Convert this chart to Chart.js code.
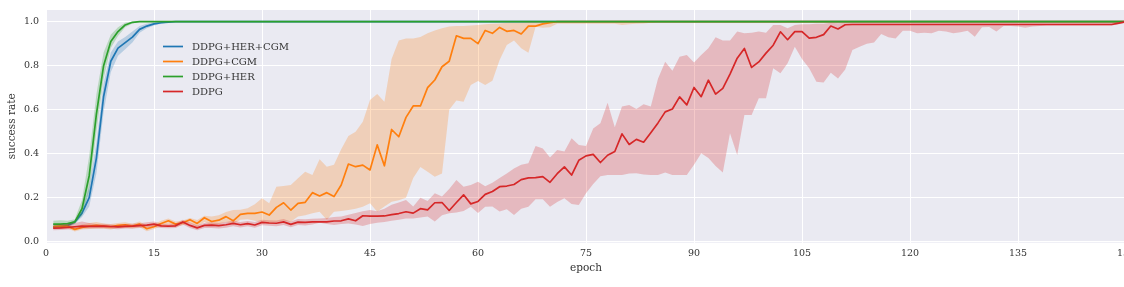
<!DOCTYPE html>
<html>
<head>
<meta charset="utf-8">
<script src="https://cdn.jsdelivr.net/npm/chart.js@4.4.1/dist/chart.umd.min.js"></script>
<style>
  html, body { margin: 0; padding: 0; background: #ffffff; overflow: hidden; }
  #wrap { width: 1126px; height: 287px; }
</style>
</head>
<body>
<div id="wrap"><canvas id="chart" width="1126" height="287"></canvas></div>
<script>
// Series names / colours (legend order)
const seriesNames = ['DDPG+HER+CGM', 'DDPG+CGM', 'DDPG+HER', 'DDPG'];
const seriesColors = ['#1f77b4', '#ff7f0e', '#2ca02c', '#d62728'];
const bandColors = ['rgba(31,119,180,0.25)', 'rgba(255,127,14,0.25)', 'rgba(44,160,44,0.25)', 'rgba(214,39,40,0.25)'];

const xTicks = [0, 15, 30, 45, 60, 75, 90, 105, 120, 135, 150];
const yTicks = [0, 0.2, 0.4, 0.6, 0.8, 1.0];

// success rate per epoch (epoch 1..150), mean and band edges

// DDPG+HER+CGM
const herCgmMean = [
  0.068, 0.068, 0.074, 0.090, 0.130, 0.200, 0.380, 0.660, 0.820, 0.880,
  0.905, 0.930, 0.965, 0.980, 0.990, 0.995, 0.998, 1, 1, 1,
  1, 1, 1, 1, 1, 1, 1, 1, 1, 1,
  1, 1, 1, 1, 1, 1, 1, 1, 1, 1,
  1, 1, 1, 1, 1, 1, 1, 1, 1, 1,
  1, 1, 1, 1, 1, 1, 1, 1, 1, 1,
  1, 1, 1, 1, 1, 1, 1, 1, 1, 1,
  1, 1, 1, 1, 1, 1, 1, 1, 1, 1,
  1, 1, 1, 1, 1, 1, 1, 1, 1, 1,
  1, 1, 1, 1, 1, 1, 1, 1, 1, 1,
  1, 1, 1, 1, 1, 1, 1, 1, 1, 1,
  1, 1, 1, 1, 1, 1, 1, 1, 1, 1,
  1, 1, 1, 1, 1, 1, 1, 1, 1, 1,
  1, 1, 1, 1, 1, 1, 1, 1, 1, 1,
  1, 1, 1, 1, 1, 1, 1, 1, 1, 1
];
const herCgmHigh = [
  0.078, 0.078, 0.082, 0.098, 0.150, 0.250, 0.450, 0.720, 0.860, 0.910,
  0.930, 0.955, 0.980, 0.990, 0.997, 1, 1, 1, 1, 1,
  1, 1, 1, 1, 1, 1, 1, 1, 1, 1,
  1, 1, 1, 1, 1, 1, 1, 1, 1, 1,
  1, 1, 1, 1, 1, 1, 1, 1, 1, 1,
  1, 1, 1, 1, 1, 1, 1, 1, 1, 1,
  1, 1, 1, 1, 1, 1, 1, 1, 1, 1,
  1, 1, 1, 1, 1, 1, 1, 1, 1, 1,
  1, 1, 1, 1, 1, 1, 1, 1, 1, 1,
  1, 1, 1, 1, 1, 1, 1, 1, 1, 1,
  1, 1, 1, 1, 1, 1, 1, 1, 1, 1,
  1, 1, 1, 1, 1, 1, 1, 1, 1, 1,
  1, 1, 1, 1, 1, 1, 1, 1, 1, 1,
  1, 1, 1, 1, 1, 1, 1, 1, 1, 1,
  1, 1, 1, 1, 1, 1, 1, 1, 1, 1
];
const herCgmLow = [
  0.058, 0.058, 0.066, 0.082, 0.112, 0.160, 0.310, 0.590, 0.770, 0.845,
  0.875, 0.905, 0.950, 0.970, 0.983, 0.990, 0.996, 1, 1, 1,
  1, 1, 1, 1, 1, 1, 1, 1, 1, 1,
  1, 1, 1, 1, 1, 1, 1, 1, 1, 1,
  1, 1, 1, 1, 1, 1, 1, 1, 1, 1,
  1, 1, 1, 1, 1, 1, 1, 1, 1, 1,
  1, 1, 1, 1, 1, 1, 1, 1, 1, 1,
  1, 1, 1, 1, 1, 1, 1, 1, 1, 1,
  1, 1, 1, 1, 1, 1, 1, 1, 1, 1,
  1, 1, 1, 1, 1, 1, 1, 1, 1, 1,
  1, 1, 1, 1, 1, 1, 1, 1, 1, 1,
  1, 1, 1, 1, 1, 1, 1, 1, 1, 1,
  1, 1, 1, 1, 1, 1, 1, 1, 1, 1,
  1, 1, 1, 1, 1, 1, 1, 1, 1, 1,
  1, 1, 1, 1, 1, 1, 1, 1, 1, 1
];

// DDPG+CGM
const cgmMean = [
  0.068, 0.071, 0.070, 0.056, 0.065, 0.071, 0.074, 0.071, 0.068, 0.074,
  0.077, 0.071, 0.080, 0.059, 0.068, 0.083, 0.095, 0.080, 0.086, 0.100,
  0.083, 0.109, 0.092, 0.098, 0.114, 0.095, 0.124, 0.129, 0.129, 0.135,
  0.121, 0.156, 0.177, 0.144, 0.174, 0.179, 0.223, 0.208, 0.223, 0.205,
  0.258, 0.353, 0.341, 0.348, 0.326, 0.440, 0.345, 0.510, 0.477, 0.565,
  0.617, 0.617, 0.700, 0.735, 0.795, 0.820, 0.936, 0.924, 0.924, 0.900,
  0.960, 0.947, 0.974, 0.956, 0.960, 0.944, 0.980, 0.980, 0.990, 0.996,
  1, 1, 1, 1, 1, 1, 1, 1, 1, 1,
  1, 1, 1, 1, 1, 1, 1, 1, 1, 1,
  1, 1, 1, 1, 1, 1, 1, 1, 1, 1,
  1, 1, 1, 1, 1, 1, 1, 1, 1, 1,
  1, 1, 1, 1, 1, 1, 1, 1, 1, 1,
  1, 1, 1, 1, 1, 1, 1, 1, 1, 1,
  1, 1, 1, 1, 1, 1, 1, 1, 1, 1,
  1, 1, 1, 1, 1, 1, 1, 1, 1, 1
];
const cgmHigh = [
  0.080, 0.082, 0.080, 0.068, 0.078, 0.085, 0.090, 0.083, 0.080, 0.085,
  0.088, 0.082, 0.092, 0.074, 0.080, 0.095, 0.105, 0.092, 0.096, 0.108,
  0.099, 0.118, 0.114, 0.120, 0.135, 0.144, 0.145, 0.152, 0.170, 0.197,
  0.175, 0.250, 0.253, 0.258, 0.288, 0.318, 0.303, 0.375, 0.341, 0.350,
  0.420, 0.480, 0.500, 0.545, 0.644, 0.671, 0.636, 0.830, 0.914, 0.924,
  0.924, 0.930, 0.947, 0.960, 0.970, 0.978, 0.980, 0.980, 0.982, 0.985,
  0.988, 0.990, 0.992, 0.995, 0.995, 0.995, 0.998, 0.998, 1, 1,
  1, 1, 1, 1, 1, 1, 1, 1, 1, 1,
  1, 1, 1, 1, 1, 1, 1, 1, 1, 1,
  1, 1, 1, 1, 1, 1, 1, 1, 1, 1,
  1, 1, 1, 1, 1, 1, 1, 1, 1, 1,
  1, 1, 1, 1, 1, 1, 1, 1, 1, 1,
  1, 1, 1, 1, 1, 1, 1, 1, 1, 1,
  1, 1, 1, 1, 1, 1, 1, 1, 1, 1,
  1, 1, 1, 1, 1, 1, 1, 1, 1, 1
];
const cgmLow = [
  0.058, 0.060, 0.060, 0.046, 0.055, 0.058, 0.060, 0.059, 0.056, 0.062,
  0.064, 0.060, 0.066, 0.048, 0.058, 0.070, 0.080, 0.068, 0.075, 0.085,
  0.068, 0.090, 0.075, 0.080, 0.090, 0.080, 0.100, 0.102, 0.095, 0.090,
  0.080, 0.090, 0.095, 0.091, 0.114, 0.120, 0.129, 0.136, 0.100, 0.136,
  0.140, 0.144, 0.150, 0.159, 0.175, 0.136, 0.160, 0.182, 0.188, 0.200,
  0.290, 0.340, 0.318, 0.295, 0.310, 0.600, 0.642, 0.636, 0.712, 0.730,
  0.712, 0.732, 0.826, 0.894, 0.914, 0.879, 0.859, 0.977, 0.972, 0.975,
  0.990, 0.990, 0.990, 0.990, 0.990, 0.990, 0.990, 0.990, 0.990, 0.985,
  0.988, 0.990, 0.992, 0.995, 1, 1, 1, 1, 1, 1,
  1, 1, 1, 1, 1, 1, 1, 1, 1, 1,
  1, 1, 1, 1, 1, 1, 1, 1, 1, 1,
  1, 1, 1, 1, 1, 1, 1, 1, 1, 1,
  1, 1, 1, 1, 1, 1, 1, 1, 1, 1,
  1, 1, 1, 1, 1, 1, 1, 1, 1, 1,
  1, 1, 1, 1, 1, 1, 1, 1, 1, 1
];

// DDPG+HER
const herMean = [
  0.080, 0.080, 0.082, 0.090, 0.150, 0.300, 0.580, 0.800, 0.910, 0.955,
  0.985, 0.997, 1, 1, 1, 1, 1, 1, 1, 1,
  1, 1, 1, 1, 1, 1, 1, 1, 1, 1,
  1, 1, 1, 1, 1, 1, 1, 1, 1, 1,
  1, 1, 1, 1, 1, 1, 1, 1, 1, 1,
  1, 1, 1, 1, 1, 1, 1, 1, 1, 1,
  1, 1, 1, 1, 1, 1, 1, 1, 1, 1,
  1, 1, 1, 1, 1, 1, 1, 1, 1, 1,
  1, 1, 1, 1, 1, 1, 1, 1, 1, 1,
  1, 1, 1, 1, 1, 1, 1, 1, 1, 1,
  1, 1, 1, 1, 1, 1, 1, 1, 1, 1,
  1, 1, 1, 1, 1, 1, 1, 1, 1, 1,
  1, 1, 1, 1, 1, 1, 1, 1, 1, 1,
  1, 1, 1, 1, 1, 1, 1, 1, 1, 1,
  1, 1, 1, 1, 1, 1, 1, 1, 1, 1
];
const herHigh = [
  0.095, 0.098, 0.095, 0.102, 0.190, 0.390, 0.670, 0.860, 0.940, 0.975,
  0.995, 1, 1, 1, 1, 1, 1, 1, 1, 1,
  1, 1, 1, 1, 1, 1, 1, 1, 1, 1,
  1, 1, 1, 1, 1, 1, 1, 1, 1, 1,
  1, 1, 1, 1, 1, 1, 1, 1, 1, 1,
  1, 1, 1, 1, 1, 1, 1, 1, 1, 1,
  1, 1, 1, 1, 1, 1, 1, 1, 1, 1,
  1, 1, 1, 1, 1, 1, 1, 1, 1, 1,
  1, 1, 1, 1, 1, 1, 1, 1, 1, 1,
  1, 1, 1, 1, 1, 1, 1, 1, 1, 1,
  1, 1, 1, 1, 1, 1, 1, 1, 1, 1,
  1, 1, 1, 1, 1, 1, 1, 1, 1, 1,
  1, 1, 1, 1, 1, 1, 1, 1, 1, 1,
  1, 1, 1, 1, 1, 1, 1, 1, 1, 1,
  1, 1, 1, 1, 1, 1, 1, 1, 1, 1
];
const herLow = [
  0.065, 0.066, 0.070, 0.080, 0.120, 0.230, 0.500, 0.740, 0.880, 0.935,
  0.975, 0.992, 1, 1, 1, 1, 1, 1, 1, 1,
  1, 1, 1, 1, 1, 1, 1, 1, 1, 1,
  1, 1, 1, 1, 1, 1, 1, 1, 1, 1,
  1, 1, 1, 1, 1, 1, 1, 1, 1, 1,
  1, 1, 1, 1, 1, 1, 1, 1, 1, 1,
  1, 1, 1, 1, 1, 1, 1, 1, 1, 1,
  1, 1, 1, 1, 1, 1, 1, 1, 1, 1,
  1, 1, 1, 1, 1, 1, 1, 1, 1, 1,
  1, 1, 1, 1, 1, 1, 1, 1, 1, 1,
  1, 1, 1, 1, 1, 1, 1, 1, 1, 1,
  1, 1, 1, 1, 1, 1, 1, 1, 1, 1,
  1, 1, 1, 1, 1, 1, 1, 1, 1, 1,
  1, 1, 1, 1, 1, 1, 1, 1, 1, 1,
  1, 1, 1, 1, 1, 1, 1, 1, 1, 1
];

// DDPG
const ddpgMean = [
  0.062, 0.063, 0.065, 0.068, 0.071, 0.070, 0.070, 0.071, 0.069, 0.067,
  0.070, 0.071, 0.073, 0.075, 0.080, 0.072, 0.071, 0.072, 0.090, 0.074,
  0.063, 0.074, 0.075, 0.073, 0.077, 0.083, 0.077, 0.082, 0.076, 0.088,
  0.085, 0.084, 0.090, 0.079, 0.089, 0.088, 0.090, 0.090, 0.090, 0.094,
  0.095, 0.104, 0.095, 0.118, 0.116, 0.116, 0.117, 0.123, 0.128, 0.136,
  0.130, 0.150, 0.145, 0.177, 0.178, 0.142, 0.178, 0.213, 0.172, 0.183,
  0.215, 0.228, 0.250, 0.253, 0.260, 0.282, 0.290, 0.291, 0.296, 0.270,
  0.309, 0.340, 0.303, 0.370, 0.390, 0.397, 0.360, 0.393, 0.410, 0.490,
  0.442, 0.465, 0.452, 0.495, 0.540, 0.590, 0.603, 0.658, 0.622, 0.701,
  0.659, 0.734, 0.671, 0.697, 0.762, 0.834, 0.878, 0.792, 0.817, 0.857,
  0.893, 0.954, 0.918, 0.955, 0.955, 0.925, 0.929, 0.941, 0.980, 0.967,
  0.986, 0.987, 0.987, 0.987, 0.987, 0.987, 0.987, 0.987, 0.987, 0.987,
  0.987, 0.987, 0.987, 0.987, 0.987, 0.987, 0.987, 0.987, 0.987, 0.987,
  0.987, 0.987, 0.987, 0.987, 0.987, 0.987, 0.987, 0.987, 0.987, 0.987,
  0.987, 0.987, 0.987, 0.987, 0.987, 0.987, 0.987, 0.987, 0.993, 1.000
];
const ddpgHigh = [
  0.075, 0.078, 0.080, 0.085, 0.092, 0.085, 0.080, 0.082, 0.078, 0.076,
  0.080, 0.082, 0.084, 0.088, 0.092, 0.082, 0.080, 0.083, 0.100, 0.087,
  0.075, 0.085, 0.088, 0.085, 0.090, 0.095, 0.090, 0.094, 0.090, 0.100,
  0.098, 0.096, 0.103, 0.092, 0.103, 0.102, 0.104, 0.106, 0.108, 0.112,
  0.115, 0.122, 0.130, 0.138, 0.144, 0.138, 0.150, 0.168, 0.178, 0.190,
  0.160, 0.200, 0.185, 0.220, 0.205, 0.240, 0.280, 0.250, 0.258, 0.272,
  0.252, 0.268, 0.290, 0.310, 0.333, 0.350, 0.356, 0.435, 0.424, 0.383,
  0.417, 0.410, 0.470, 0.440, 0.435, 0.515, 0.538, 0.632, 0.520, 0.614,
  0.621, 0.603, 0.625, 0.615, 0.740, 0.818, 0.777, 0.841, 0.849, 0.814,
  0.849, 0.879, 0.929, 0.914, 0.914, 0.955, 0.947, 0.950, 0.955, 0.950,
  0.985, 0.985, 0.970, 0.985, 0.988, 0.988, 0.990, 0.990, 0.995, 0.993,
  0.995, 0.995, 0.995, 0.995, 0.995, 0.995, 0.995, 0.995, 0.995, 0.995,
  0.995, 0.995, 0.995, 0.995, 0.995, 0.995, 0.995, 0.995, 0.995, 0.995,
  0.995, 0.995, 0.995, 0.995, 0.995, 0.995, 0.995, 0.995, 0.995, 0.995,
  0.995, 0.995, 0.995, 0.995, 0.995, 0.995, 0.995, 0.995, 0.998, 1.000
];
const ddpgLow = [
  0.052, 0.053, 0.055, 0.058, 0.060, 0.060, 0.060, 0.061, 0.059, 0.057,
  0.060, 0.060, 0.062, 0.063, 0.068, 0.062, 0.061, 0.062, 0.078, 0.062,
  0.052, 0.062, 0.062, 0.060, 0.064, 0.070, 0.065, 0.070, 0.064, 0.075,
  0.072, 0.070, 0.076, 0.066, 0.076, 0.074, 0.078, 0.086, 0.080, 0.076,
  0.080, 0.083, 0.078, 0.071, 0.080, 0.086, 0.090, 0.095, 0.100, 0.106,
  0.106, 0.110, 0.114, 0.092, 0.120, 0.129, 0.133, 0.140, 0.159, 0.130,
  0.159, 0.160, 0.137, 0.147, 0.121, 0.150, 0.159, 0.193, 0.193, 0.159,
  0.180, 0.197, 0.171, 0.167, 0.220, 0.262, 0.298, 0.303, 0.303, 0.303,
  0.310, 0.311, 0.305, 0.303, 0.303, 0.315, 0.303, 0.303, 0.303, 0.350,
  0.402, 0.380, 0.344, 0.314, 0.493, 0.394, 0.576, 0.576, 0.652, 0.652,
  0.788, 0.765, 0.811, 0.886, 0.830, 0.788, 0.727, 0.723, 0.768, 0.742,
  0.783, 0.871, 0.886, 0.900, 0.905, 0.944, 0.929, 0.924, 0.959, 0.959,
  0.947, 0.950, 0.947, 0.959, 0.955, 0.947, 0.952, 0.959, 0.932, 0.975,
  0.976, 0.955, 0.980, 0.980, 0.978, 0.972, 0.978, 0.980, 0.982, 0.983,
  0.983, 0.983, 0.983, 0.983, 0.983, 0.983, 0.983, 0.983, 0.988, 0.995
];

const meanSeries = [herCgmMean, cgmMean, herMean, ddpgMean];
const lowSeries = [herCgmLow, cgmLow, herLow, ddpgLow];
const highSeries = [herCgmHigh, cgmHigh, herHigh, ddpgHigh];

const textColor = '#333333';
const serif = 'DejaVu Serif';

function toPoints(arr) {
    return arr.map((v, i) => ({ x: i + 1, y: v }));
}

// Build datasets: band (low + high filled to low) then mean line, per series.
// Plot order: blue, orange, green, red (red ends on top)
const datasets = [];
let drawIndex = 0;
seriesNames.forEach((name, s) => {
    datasets.push({
        label: name + ' low',
        data: toPoints(lowSeries[s]),
        borderColor: 'rgba(0,0,0,0)',
        borderWidth: 0,
        pointRadius: 0,
        fill: false,
        order: 100 - drawIndex++
    });
    datasets.push({
        label: name + ' high',
        data: toPoints(highSeries[s]),
        borderColor: 'rgba(0,0,0,0)',
        borderWidth: 0,
        pointRadius: 0,
        backgroundColor: bandColors[s],
        fill: '-1',
        order: 100 - drawIndex++
    });
    datasets.push({
        label: name,
        data: toPoints(meanSeries[s]),
        borderColor: seriesColors[s],
        borderWidth: 1.7,
        borderJoinStyle: 'round',
        pointRadius: 0,
        fill: false,
        tension: 0,
        order: 100 - drawIndex++
    });
});

// grey plot background (seaborn darkgrid look)
const plotBackground = {
    id: 'plotBackground',
    beforeDraw(chart) {
        const { ctx, chartArea: a } = chart;
        ctx.save();
        ctx.fillStyle = '#eaeaf2';
        ctx.fillRect(a.left, a.top, a.right - a.left, a.bottom - a.top);
        ctx.restore();
    }
};

// legend drawn inside the plot, no frame
const innerLegend = {
    id: 'innerLegend',
    afterDatasetsDraw(chart) {
        const { ctx, chartArea: a } = chart;
        ctx.save();
        ctx.font = '10px "' + serif + '"';
        ctx.textBaseline = 'middle';
        ctx.textAlign = 'left';
        seriesNames.forEach((name, i) => {
            const x = a.left + 117;
            const y = a.top + 36.5 + i * 15;
            ctx.strokeStyle = seriesColors[i];
            ctx.lineWidth = 1.7;
            ctx.beginPath();
            ctx.moveTo(x, y);
            ctx.lineTo(x + 20, y);
            ctx.stroke();
            ctx.fillStyle = textColor;
            ctx.fillText(name, x + 29, y + 0.5);
        });
        ctx.restore();
    }
};

new Chart(document.getElementById('chart').getContext('2d'), {
    type: 'line',
    data: { datasets: datasets },
    plugins: [plotBackground, innerLegend],
    options: {
        responsive: false,
        animation: false,
        devicePixelRatio: 1,
        layout: { padding: { top: 10, left: 0, right: 0, bottom: 0 } },
        plugins: {
            legend: { display: false },
            tooltip: { enabled: false }
        },
        scales: {
            x: {
                type: 'linear',
                min: 0,
                max: 150,
                afterBuildTicks: (scale) => { scale.ticks = xTicks.map(v => ({ value: v })); },
                afterFit: (scale) => { scale.height = 44.3; scale.paddingLeft = 0; scale.paddingRight = 0; },
                grid: { color: '#ffffff', lineWidth: 1, drawTicks: false },
                border: { display: false },
                ticks: {
                    padding: 5,
                    color: textColor,
                    autoSkip: false,
                    maxRotation: 0,
                    font: { family: serif, size: 9.5 },
                    callback: (v) => String(v)
                },
                title: {
                    display: true,
                    text: 'epoch',
                    color: textColor,
                    font: { family: serif, size: 10.5 },
                    padding: { top: 0, bottom: 12 }
                }
            },
            y: {
                type: 'linear',
                min: -0.0045,
                max: 1.053,
                afterBuildTicks: (scale) => { scale.ticks = yTicks.map(v => ({ value: v })); },
                afterFit: (scale) => { scale.width = 46; scale.paddingTop = 0; scale.paddingBottom = 0; },
                grid: { color: '#ffffff', lineWidth: 1, drawTicks: false },
                border: { display: false },
                ticks: {
                    padding: 7,
                    color: textColor,
                    font: { family: serif, size: 9.5 },
                    callback: (v) => Number(v).toFixed(1)
                },
                title: {
                    display: true,
                    text: 'success rate',
                    color: textColor,
                    font: { family: serif, size: 10.5 },
                    padding: { top: 6, bottom: 0 }
                }
            }
        }
    }
});
</script>
</body>
</html>
